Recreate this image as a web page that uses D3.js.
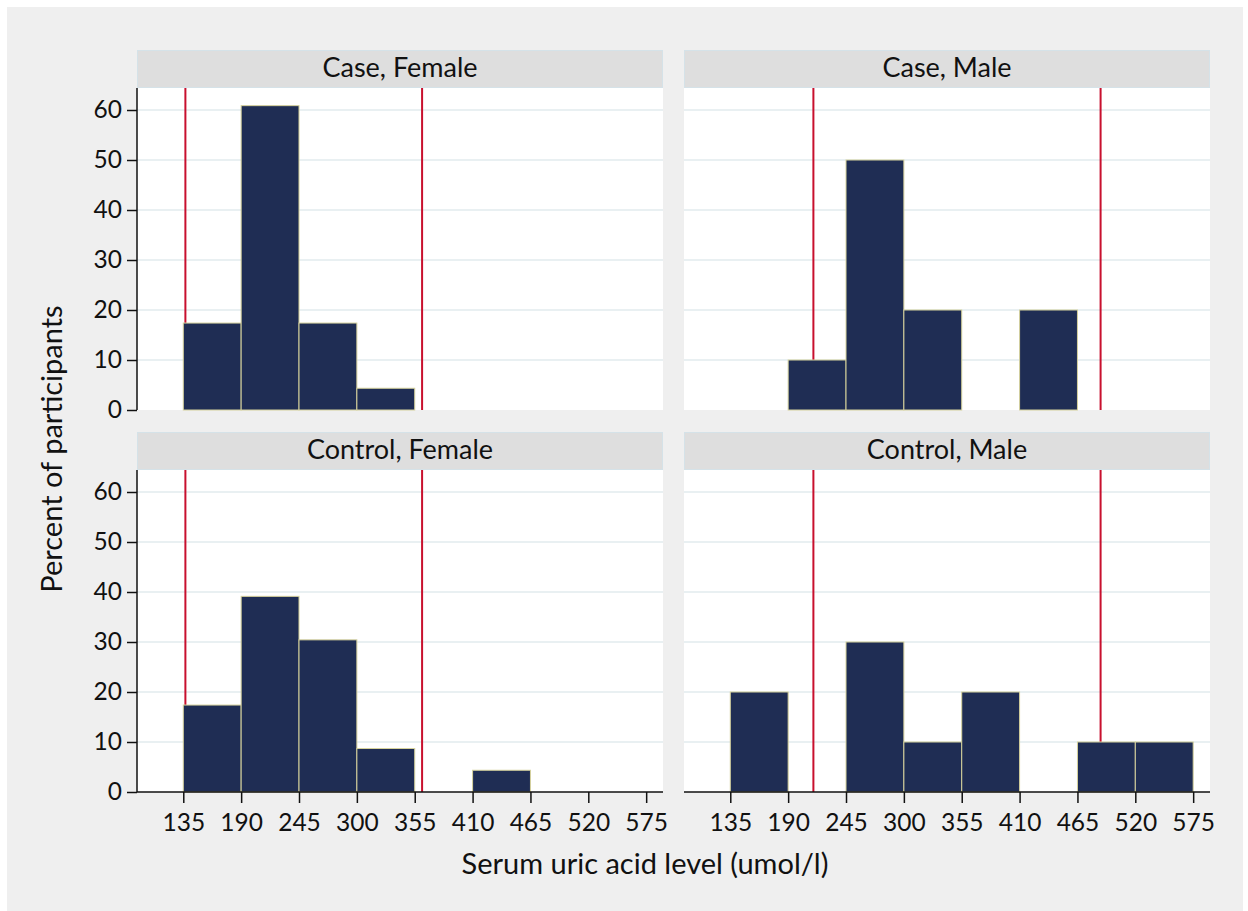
<!DOCTYPE html>
<html>
<head>
<meta charset="utf-8">
<script src="https://cdn.jsdelivr.net/npm/d3@7"></script>
<style>
  body { margin: 0; background: #ffffff; }
  text { font-family: Lato, "Open Sans", sans-serif; fill: #111111; }
</style>
</head>
<body>
<svg id="chart" width="1248" height="911"></svg>
<script>
// bin edges (umol/l), width 55
const binStarts = [135, 190, 245, 300, 355, 410, 465, 520];
const binWidth = 55;
const xTicks = [135, 190, 245, 300, 355, 410, 465, 520, 575];
const yTicks = [0, 10, 20, 30, 40, 50, 60];

// percent of participants per bin
const caseFemale = [17.39, 60.87, 17.39, 4.35, 0, 0, 0, 0];
const caseMale = [0, 10, 50, 20, 0, 20, 0, 0];
const controlFemale = [17.39, 39.13, 30.43, 8.7, 0, 4.35, 0, 0];
const controlMale = [20, 0, 30, 10, 20, 0, 10, 10];

// reference lines
const femaleRefs = [137, 362];
const maleRefs = [214, 487];

const panelTitles = ['Case, Female', 'Case, Male', 'Control, Female', 'Control, Male'];

const svg = d3.select('#chart');

svg.append('rect')
    .attr('x', 7).attr('y', 7)
    .attr('width', 1236).attr('height', 904)
    .attr('fill', '#efefef');

const colX = [137, 684];
const rowY = [50, 432];
const panelW = 526;
const stripH = 38;
const plotH = 322;

const x = d3.scaleLinear().domain([91, 591]).range([0, panelW]);
const y = d3.scaleLinear().domain([0, 64.4]).range([plotH, 0]);

const panels = [
    { title: panelTitles[0], values: caseFemale, refs: femaleRefs, col: 0, row: 0 },
    { title: panelTitles[1], values: caseMale, refs: maleRefs, col: 1, row: 0 },
    { title: panelTitles[2], values: controlFemale, refs: femaleRefs, col: 0, row: 1 },
    { title: panelTitles[3], values: controlMale, refs: maleRefs, col: 1, row: 1 }
];

panels.forEach((p) => {
    const g = svg.append('g')
        .attr('transform', `translate(${colX[p.col]},${rowY[p.row]})`);

    // strip
    g.append('rect')
        .attr('x', 0.5).attr('y', 0.5)
        .attr('width', panelW - 1).attr('height', stripH - 1)
        .attr('fill', '#dedede')
        .attr('stroke', '#d5e2e8');
    g.append('text')
        .attr('x', panelW / 2).attr('y', stripH / 2 - 2)
        .attr('dy', '0.36em')
        .attr('text-anchor', 'middle')
        .style('font-size', '27px')
        .text(p.title);

    const plot = g.append('g').attr('transform', `translate(0,${stripH})`);
    plot.append('rect')
        .attr('width', panelW).attr('height', plotH)
        .attr('fill', '#ffffff');

    // grid
    plot.append('g')
        .selectAll('line')
        .data(yTicks.filter(d => d > 0))
        .enter()
        .append('line')
        .attr('x1', 0).attr('x2', panelW)
        .attr('y1', d => y(d)).attr('y2', d => y(d))
        .attr('stroke', '#e9f0f2')
        .attr('stroke-width', 2);

    // reference lines (under the bars)
    plot.append('g')
        .selectAll('line')
        .data(p.refs)
        .enter()
        .append('line')
        .attr('x1', d => x(d)).attr('x2', d => x(d))
        .attr('y1', 0).attr('y2', plotH)
        .attr('stroke', '#c8102e')
        .attr('stroke-width', 2);

    // bars
    const bins = binStarts.map((b, i) => ({ x0: b, x1: b + binWidth, v: p.values[i] }))
        .filter(d => d.v > 0);
    plot.append('g')
        .selectAll('rect')
        .data(bins)
        .enter()
        .append('rect')
        .attr('x', d => x(d.x0))
        .attr('y', d => y(d.v))
        .attr('width', d => x(d.x1) - x(d.x0))
        .attr('height', d => y(0) - y(d.v))
        .attr('fill', '#1f2d54')
        .attr('stroke', '#d6d29c')
        .attr('stroke-width', 1);

    if (p.col === 0) {
        const ya = plot.append('g')
            .call(d3.axisLeft(y).tickValues(yTicks).tickSize(10).tickPadding(5));
        ya.select('.domain').attr('stroke', '#111').attr('stroke-width', 1.5)
            .attr('d', `M0,0V${plotH}`);
        ya.selectAll('.tick line').attr('stroke', '#111').attr('stroke-width', 1.5);
        ya.selectAll('.tick text')
            .style('font-family', 'Lato, sans-serif')
            .style('font-size', '24.5px')
            .attr('fill', '#111');
    }
    if (p.row === 1) {
        const xa = plot.append('g')
            .attr('transform', `translate(0,${plotH})`)
            .call(d3.axisBottom(x).tickValues(xTicks).tickSize(11).tickPadding(11));
        xa.select('.domain').attr('stroke', '#111').attr('stroke-width', 1.5)
            .attr('d', `M0,0H${panelW}`);
        xa.selectAll('.tick line').attr('stroke', '#111').attr('stroke-width', 1.5);
        xa.selectAll('.tick text')
            .style('font-family', 'Lato, sans-serif')
            .style('font-size', '24.5px')
            .attr('fill', '#111');
    }
});

// axis titles
svg.append('text')
    .attr('transform', 'translate(52,449) rotate(-90)')
    .attr('dy', '0.36em')
    .attr('text-anchor', 'middle')
    .style('font-size', '29px')
    .text('Percent of participants');

svg.append('text')
    .attr('x', 645).attr('y', 864)
    .attr('dy', '0.36em')
    .attr('text-anchor', 'middle')
    .style('font-size', '29px')
    .text('Serum uric acid level (umol/l)');
</script>
</body>
</html>
